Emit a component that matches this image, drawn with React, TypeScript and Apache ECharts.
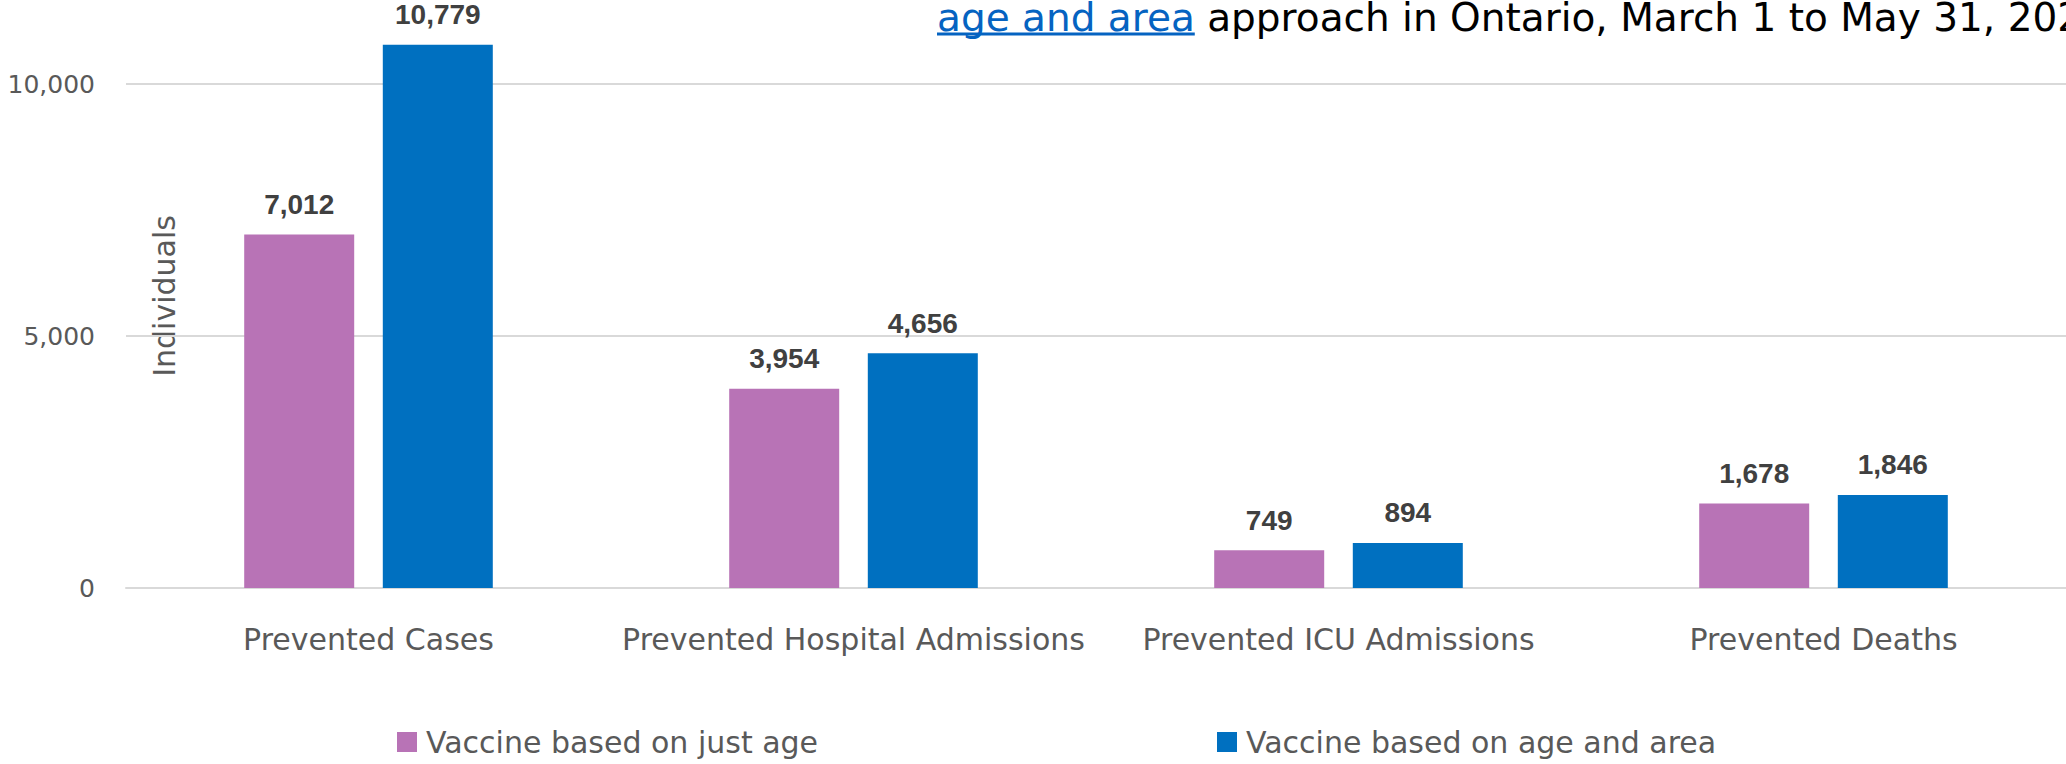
import React, { useEffect, useRef } from "react";
import * as echarts from "echarts";

const categories = [
  "Prevented Cases",
  "Prevented Hospital Admissions",
  "Prevented ICU Admissions",
  "Prevented Deaths",
];
const justAge = [7012, 3954, 749, 1678];
const ageAndArea = [10779, 4656, 894, 1846];
const seriesNames = ["Vaccine based on just age", "Vaccine based on age and area"];
const titleLink = "age and area";
const titleRest = " approach in Ontario, March 1 to May 31, 2021";
const yTicks = [0, 5000, 10000];

const FONT = "DejaVu Sans";
const fmt = (v: number) => v.toLocaleString("en-US");

function measure(text: string, font: string): number {
  const c = document.createElement("canvas");
  const ctx = c.getContext("2d");
  if (!ctx) return text.length * 20;
  ctx.font = font;
  return ctx.measureText(text).width;
}

export default function App() {
  const ref = useRef<HTMLDivElement>(null);
  useEffect(() => {
    if (!ref.current) return;
    document.body.style.margin = "0";
    const chart = echarts.init(ref.current, undefined, { renderer: "svg" });
    const titleSize = 39;
    const titleX = 937;
    const titleY = 17;
    const linkW = measure(titleLink, `${titleSize}px "${FONT}"`);
    const label = {
      show: true,
      position: "top" as const,
      distance: 16,
      color: "#404040",
      fontFamily: "Liberation Sans",
      fontWeight: "bold" as const,
      fontSize: 28,
      formatter: (p: any) => fmt(p.value),
    };
    const legendText = { fontFamily: FONT, fontSize: 30, color: "#595959", lineHeight: 30, padding: [0, 0, 0, 4] };
    chart.setOption({
      animation: false,
      backgroundColor: "#ffffff",
      grid: { left: 126, right: 0, top: 84, bottom: 176, containLabel: false },
      legend: [
        {
          data: [seriesNames[0]],
          left: 397,
          top: 727,
          padding: 0,
          itemWidth: 20,
          itemHeight: 20,
          icon: "rect",
          textStyle: legendText,
        },
        {
          data: [seriesNames[1]],
          left: 1217,
          top: 727,
          padding: 0,
          itemWidth: 20,
          itemHeight: 20,
          icon: "rect",
          textStyle: legendText,
        },
      ],
      xAxis: {
        type: "category",
        data: categories,
        axisLine: { show: true, lineStyle: { color: "#D9D9D9", width: 2 } },
        axisTick: { show: false },
        axisLabel: { interval: 0, margin: 36, fontFamily: FONT, fontSize: 30, color: "#595959" },
      },
      yAxis: {
        type: "value",
        min: yTicks[0],
        max: yTicks[yTicks.length - 1],
        interval: yTicks[1] - yTicks[0],
        axisLine: { show: false },
        axisTick: { show: false },
        splitLine: { lineStyle: { color: "#D9D9D9", width: 2 } },
        axisLabel: { margin: 31, fontFamily: FONT, fontSize: 25, color: "#595959", formatter: (v: number) => fmt(v) },
      },
      graphic: [
        {
          type: "text",
          x: 164,
          y: 296,
          rotation: Math.PI / 2,
          style: { text: "Individuals", fontFamily: FONT, fontSize: 30, fill: "#595959", align: "center", verticalAlign: "middle" },
        },
        {
          type: "text",
          x: titleX,
          y: titleY,
          style: { text: titleLink, fontFamily: FONT, fontSize: titleSize, fill: "#0563C1", align: "left", verticalAlign: "middle" },
        },
        {
          type: "text",
          x: titleX + linkW,
          y: titleY,
          style: { text: titleRest, fontFamily: FONT, fontSize: titleSize, fill: "#000000", align: "left", verticalAlign: "middle" },
        },
        {
          type: "line",
          shape: { x1: titleX, y1: 34, x2: titleX + linkW, y2: 34 },
          style: { stroke: "#0563C1", lineWidth: 3 },
        },
      ],
      series: [
        {
          name: seriesNames[0],
          type: "bar",
          data: justAge,
          barWidth: 110,
          barGap: "26%",
          clip: false,
          itemStyle: { color: "#B873B6" },
          label,
        },
        {
          name: seriesNames[1],
          type: "bar",
          data: ageAndArea,
          barWidth: 110,
          barGap: "26%",
          clip: false,
          itemStyle: { color: "#0070C0" },
          label,
        },
      ],
    });
    return () => chart.dispose();
  }, []);
  return <div ref={ref} style={{ position: "absolute", left: 0, top: 0, width: 2066, height: 764 }} />;
}
